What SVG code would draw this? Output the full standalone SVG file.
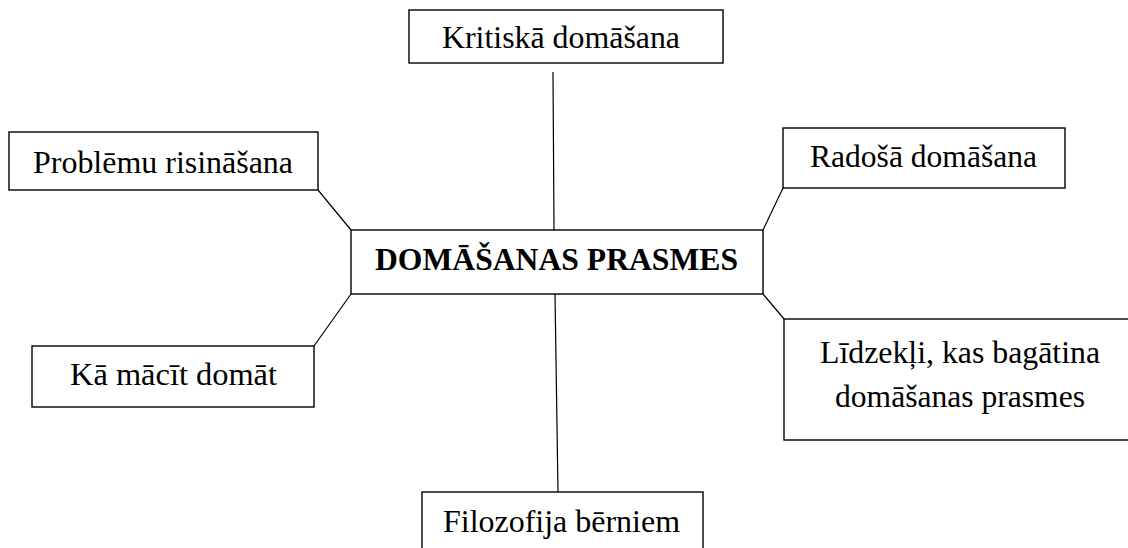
<svg xmlns="http://www.w3.org/2000/svg" width="1128" height="548" viewBox="0 0 1128 548">
<style>
.box{fill:#fff;stroke:#000;stroke-width:1.4}
.t{font-family:'Liberation Serif','Times New Roman',serif;font-size:32px;fill:#000;text-anchor:middle}
.b{font-weight:bold}
.c{stroke:#000;stroke-width:1.2;fill:none}
</style>
<rect width="1128" height="548" fill="#fff"/>
<g id="connectors">
<line class="c" x1="553" y1="72" x2="554" y2="230"/>
<line class="c" x1="555" y1="294" x2="558" y2="492"/>
<line class="c" x1="318" y1="190" x2="351" y2="230"/>
<line class="c" x1="783" y1="188" x2="763" y2="230"/>
<line class="c" x1="351" y1="294" x2="314" y2="346"/>
<line class="c" x1="763" y1="294" x2="784" y2="319"/>
</g>
<g id="n-kritiska">
<rect class="box" x="409" y="10" width="314" height="53"/>
<text class="t" x="561" y="48" textLength="238" lengthAdjust="spacingAndGlyphs">Kritiskā domāšana</text>
</g>
<g id="n-problemu">
<rect class="box" x="9" y="132" width="309" height="58"/>
<text class="t" x="163" y="173" textLength="260" lengthAdjust="spacingAndGlyphs">Problēmu risināšana</text>
</g>
<g id="n-radosa">
<rect class="box" x="783" y="128" width="282" height="60"/>
<text class="t" x="923.5" y="167" textLength="227" lengthAdjust="spacingAndGlyphs">Radošā domāšana</text>
</g>
<g id="n-center">
<rect class="box" x="351" y="230" width="412" height="64"/>
<text class="t b" x="556.5" y="270" textLength="363" lengthAdjust="spacingAndGlyphs">DOMĀŠANAS PRASMES</text>
</g>
<g id="n-ka">
<rect class="box" x="32" y="346" width="282" height="61"/>
<text class="t" x="173.5" y="385" textLength="207" lengthAdjust="spacingAndGlyphs">Kā mācīt domāt</text>
</g>
<g id="n-lidzekli">
<rect class="box" x="784" y="319" width="360" height="121"/>
<text class="t" x="960" y="363" textLength="280" lengthAdjust="spacingAndGlyphs">Līdzekļi, kas bagātina</text>
<text class="t" x="960" y="407" textLength="250" lengthAdjust="spacingAndGlyphs">domāšanas prasmes</text>
</g>
<g id="n-filozofija">
<rect class="box" x="422" y="492" width="281" height="80"/>
<text class="t" x="561.5" y="532" textLength="237" lengthAdjust="spacingAndGlyphs">Filozofija bērniem</text>
</g>
</svg>
